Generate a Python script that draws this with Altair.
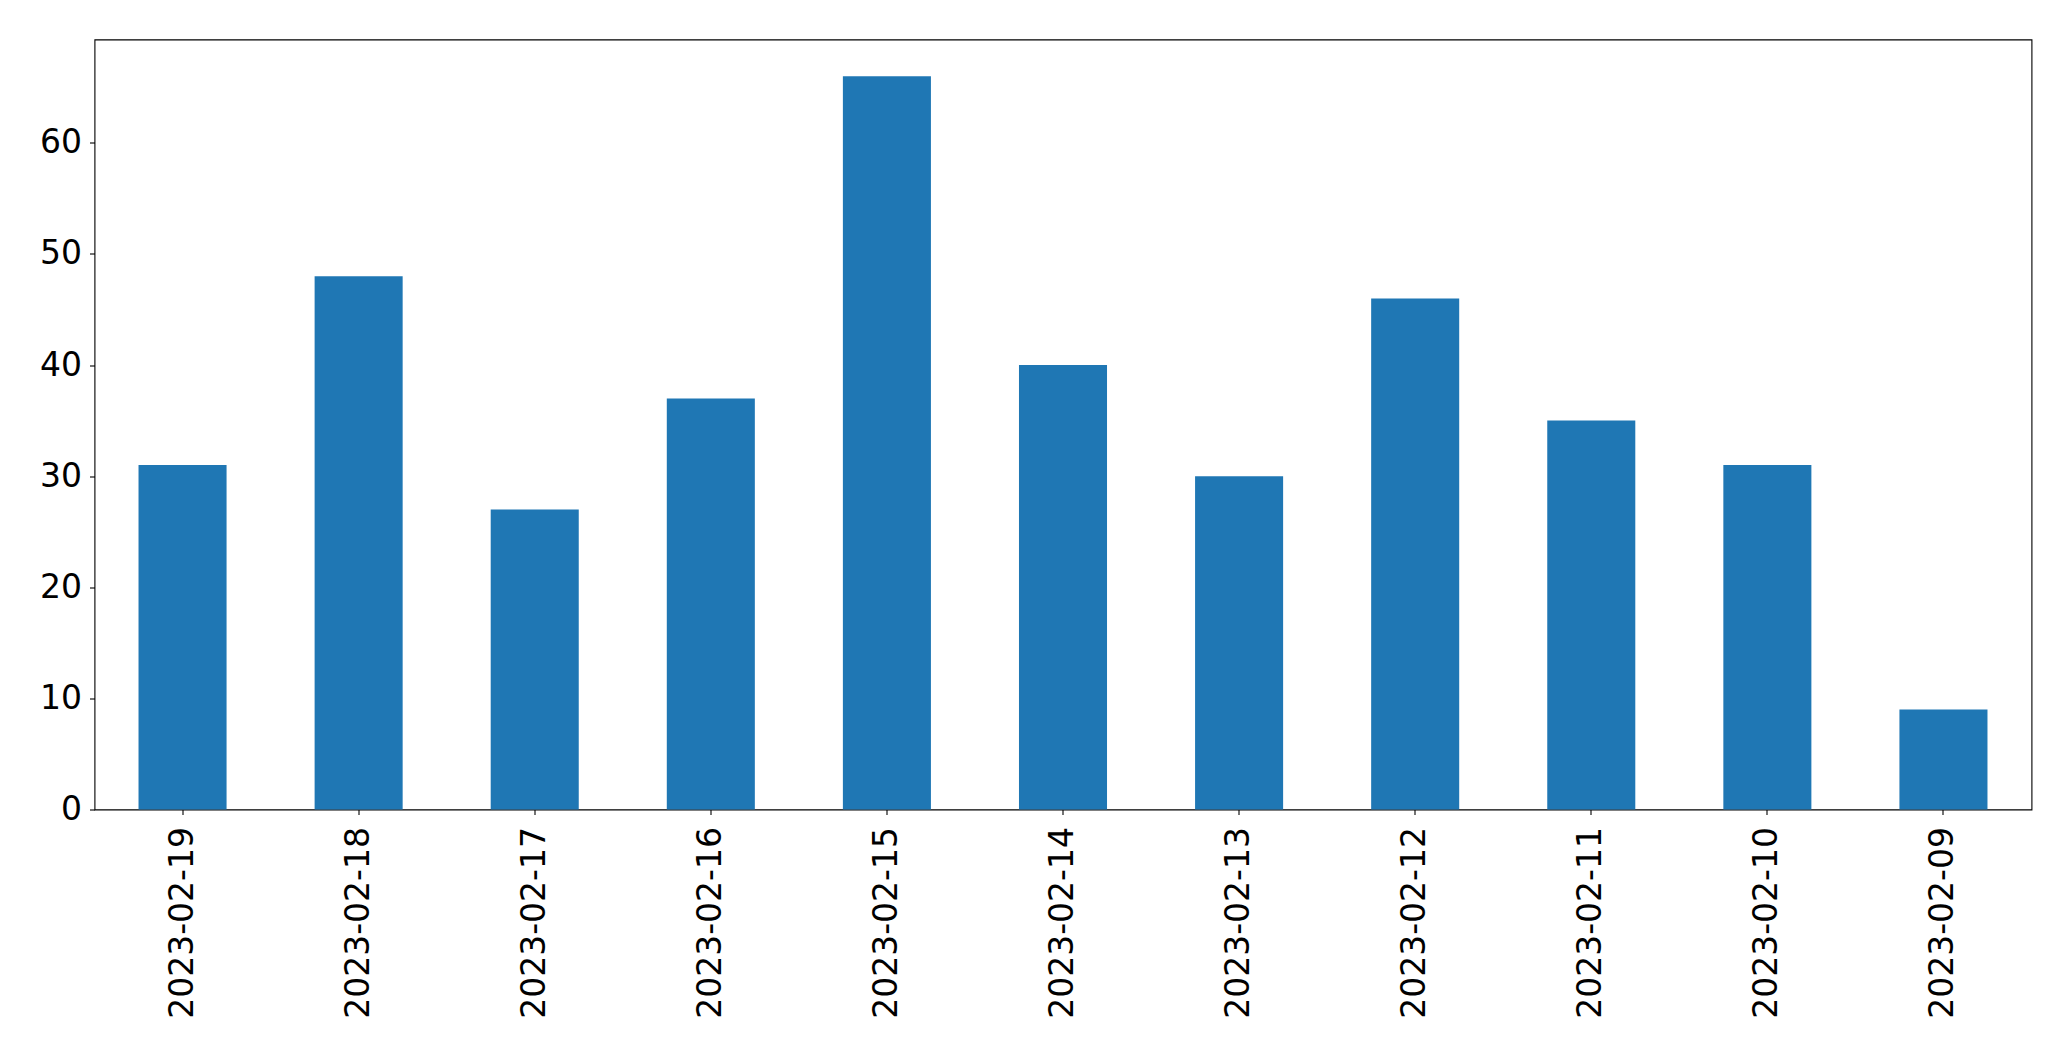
import altair as alt
import pandas as pd

dates = ["2023-02-19", "2023-02-18", "2023-02-17", "2023-02-16", "2023-02-15",
         "2023-02-14", "2023-02-13", "2023-02-12", "2023-02-11", "2023-02-10",
         "2023-02-09"]
counts = [31, 48, 27, 37, 66, 40, 30, 46, 35, 31, 9]

df = pd.DataFrame({"date": dates, "count": counts})

FONT = "DejaVu Sans"

chart = alt.Chart(df).mark_bar(color="#1f77b4").encode(
    x=alt.X("date:N", sort=dates, title=None,
            scale=alt.Scale(paddingInner=0.5, paddingOuter=0.25),
            axis=alt.Axis(labelAngle=270, labelAlign="right", labelBaseline="middle",
                          labelPadding=12, tickSize=5, tickColor="black", tickWidth=1.1,
                          domain=False, grid=False, labelFont=FONT, labelFontSize=33,
                          labelColor="black", labelLimit=0, labelOverlap=False)),
    y=alt.Y("count:Q", title=None,
            scale=alt.Scale(domain=[0, 69.3], nice=False, zero=True),
            axis=alt.Axis(values=[0, 10, 20, 30, 40, 50, 60], tickSize=5,
                          tickColor="black", tickWidth=1.1, domain=False, grid=False,
                          labelFont=FONT, labelFontSize=33, labelColor="black",
                          labelPadding=8)),
).properties(
    width=1937,
    height=770,
    autosize=alt.AutoSizeParams(type="none"),
    padding={"left": 86.5, "top": 31.5, "right": 30, "bottom": 240},
    background="white",
).configure_view(
    stroke="black", strokeWidth=1.1, fill="white"
)

chart.save("out.html", embed_options={"renderer": "svg", "actions": False})
